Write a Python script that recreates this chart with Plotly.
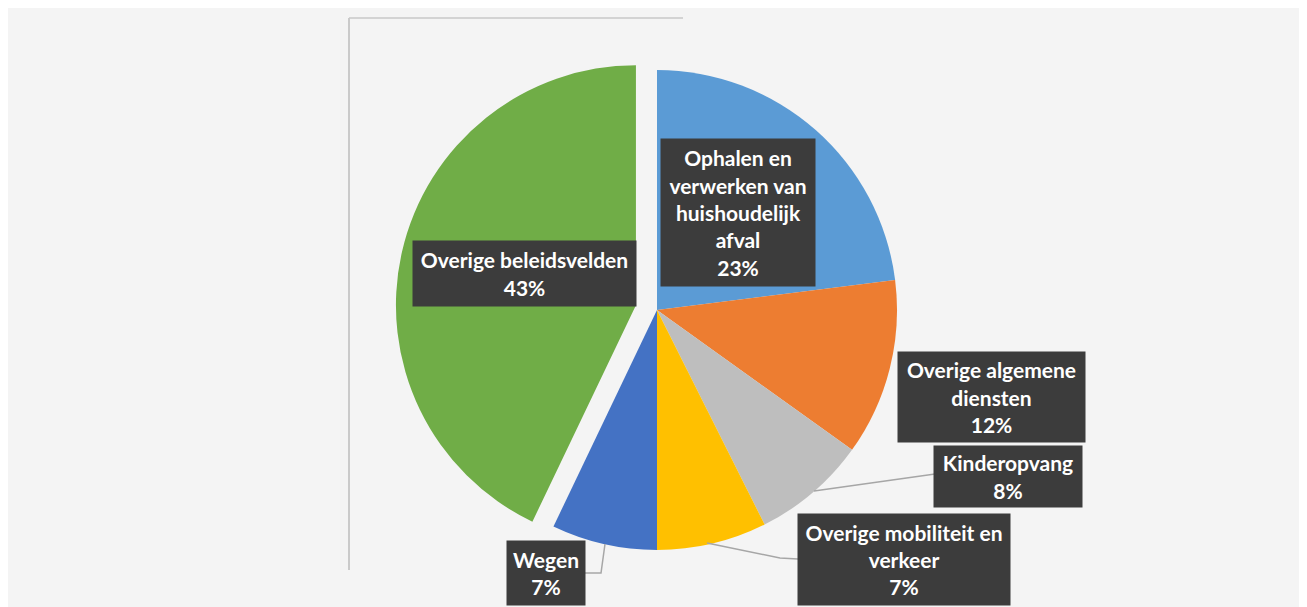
import plotly.graph_objects as go

# Data
categories = [
    "Ophalen en verwerken van huishoudelijk afval",
    "Overige algemene diensten",
    "Kinderopvang",
    "Overige mobiliteit en verkeer",
    "Wegen",
    "Overige beleidsvelden",
]
display_labels = [
    "Ophalen en<br>verwerken van<br>huishoudelijk<br>afval",
    "Overige algemene<br>diensten",
    "Kinderopvang",
    "Overige mobiliteit en<br>verkeer",
    "Wegen",
    "Overige beleidsvelden",
]
values = [23.0, 11.9, 7.7, 7.4, 7.1, 42.9]
colors = ["#5B9BD5", "#ED7D31", "#BEBEBE", "#FFC000", "#4472C4", "#70AD47"]
pulls = [0, 0, 0, 0, 0, 0.09]

W, H = 1299, 599
OFF = 8  # page body margin

# pie placement (screen pixels)
CX, CY, R = 657, 310, 240
half = R * (1 + max(pulls))
fx = CX - OFF
fy = CY - OFF
dom_x = [(fx - 330) / W, (fx + 330) / W]
dom_y = [1 - (fy + half) / H, 1 - (fy - half) / H]

fig = go.Figure(go.Pie(
    labels=categories,
    values=values,
    sort=False,
    direction="clockwise",
    rotation=0,
    pull=pulls,
    marker=dict(colors=colors, line=dict(width=0)),
    textinfo="none",
    hoverinfo="label+percent",
    domain=dict(x=dom_x, y=dom_y),
    showlegend=False,
))

def px(x):
    return (x - OFF) / W

def py(y):
    return 1 - (y - OFF) / H

# label box centres / sizes (screen pixels)
boxes = [
    (738, 213, 154, 147),
    (991, 397, 187, 90),
    (1008, 476, 148, 61),
    (904, 559, 212, 91),
    (546, 573, 78, 64),
    (524, 273, 223, 65),
]

annotations = []
total = sum(values)
for lab, v, (cx, cy, bw, bh) in zip(display_labels, values, boxes):
    annotations.append(dict(
        x=px(cx), y=py(cy), xref="paper", yref="paper",
        xanchor="center", yanchor="middle",
        text=f"<b>{lab}<br>{round(v / total * 100)}%</b>",
        showarrow=False,
        bgcolor="#3C3C3C",
        borderpad=0,
        width=bw, height=bh,
        align="center", valign="middle",
        font=dict(family="Lato, 'Open Sans', sans-serif", size=21, color="white"),
    ))

line_style = dict(color="#A6A6A6", width=1.5)
shapes = [
    # thin frame artefact
    dict(type="line", xref="paper", yref="paper", x0=px(349), x1=px(349), y0=py(18), y1=py(570),
         line=dict(color="#BDBDBD", width=1.5), layer="below"),
    dict(type="line", xref="paper", yref="paper", x0=px(349), x1=px(683), y0=py(18), y1=py(18),
         line=dict(color="#C8C8C8", width=1.5), layer="below"),
    # leader lines
    dict(type="path", xref="paper", yref="paper",
         path=f"M {px(814)},{py(491)} L {px(935)},{py(474)}", line=line_style),
    dict(type="path", xref="paper", yref="paper",
         path=f"M {px(707)},{py(543)} L {px(780)},{py(558)} L {px(798)},{py(559)}", line=line_style),
    dict(type="path", xref="paper", yref="paper",
         path=f"M {px(605)},{py(544)} L {px(601)},{py(573)} L {px(585)},{py(573)}", line=line_style),
]

fig.update_layout(
    width=W, height=H,
    margin=dict(l=0, r=0, t=0, b=0),
    paper_bgcolor="#F4F4F4",
    plot_bgcolor="#F4F4F4",
    annotations=annotations,
    shapes=shapes,
)

fig.write_html("out.html")
